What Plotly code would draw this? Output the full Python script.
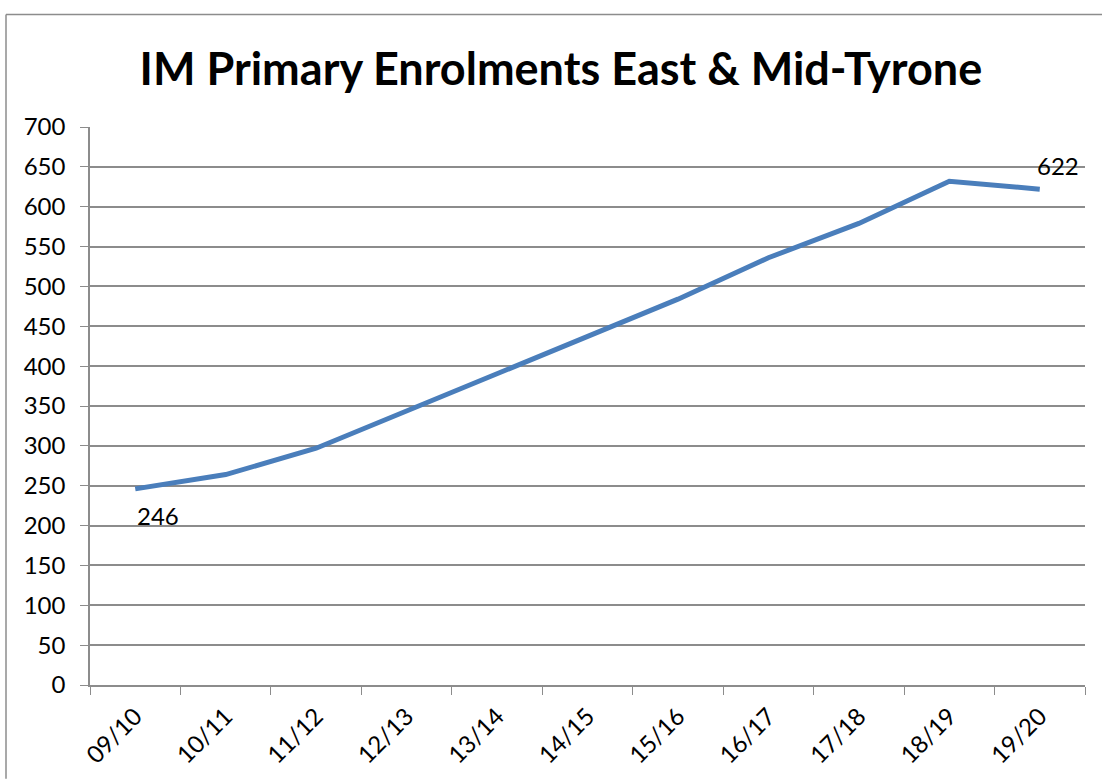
import plotly.graph_objects as go

# school years and enrolment counts
years = ["09/10", "10/11", "11/12", "12/13", "13/14", "14/15",
         "15/16", "16/17", "17/18", "18/19", "19/20"]
enrolments = [246, 264, 297, 344, 391, 437, 484, 536, 579, 632, 622]
y_ticks = list(range(0, 701, 50))

font_family = "Lato, 'Open Sans', sans-serif"
grid_color = "#8c8c8c"

fig = go.Figure()

fig.add_trace(go.Scatter(
    x=years,
    y=enrolments,
    mode="lines",
    line=dict(color="#4a7ebb", width=5),
    showlegend=False,
))

# labels on the first and last points only
fig.add_annotation(x=years[0], y=enrolments[0], text=str(enrolments[0]),
                   showarrow=False, xanchor="left", yanchor="top",
                   xshift=0, yshift=-10,
                   font=dict(family=font_family, size=24, color="black"))
fig.add_annotation(x=years[-1], y=enrolments[-1], text=str(enrolments[-1]),
                   showarrow=False, xanchor="left", yanchor="bottom",
                   xshift=-5, yshift=7,
                   font=dict(family=font_family, size=24, color="black"))

fig.update_layout(
    width=1102,
    height=781,
    margin=dict(l=90, r=17, t=127, b=94),
    paper_bgcolor="white",
    plot_bgcolor="white",
    font=dict(family=font_family, size=24, color="black"),
    title=dict(
        text="<b>IM Primary Enrolments East &amp; Mid-Tyrone</b>",
        x=0.509,
        xanchor="center",
        y=0.911,
        yanchor="middle",
        font=dict(family=font_family, size=45, color="black"),
    ),
)

fig.update_xaxes(
    type="category",
    range=[-0.5, len(years) - 0.5],
    showgrid=False,
    showline=True,
    linecolor=grid_color,
    linewidth=1.5,
    ticks="outside",
    tickson="boundaries",
    ticklen=8,
    tickcolor=grid_color,
    tickangle=-45,
    ticklabelstandoff=6,
    tickfont=dict(size=24),
)

fig.update_yaxes(
    range=[0, 700],
    tickvals=y_ticks,
    showgrid=True,
    gridcolor=grid_color,
    gridwidth=1.5,
    showline=True,
    linecolor=grid_color,
    linewidth=1.5,
    ticks="outside",
    ticklen=8,
    tickcolor=grid_color,
    ticklabelstandoff=10,
    tickfont=dict(size=24),
    zeroline=False,
)

# outer chart frame (left and top edges visible in the reference)
frame_x = (6 - 90) / 995
frame_top = (687 - 14) / 560
fig.add_shape(type="line", xref="paper", yref="paper",
              x0=frame_x, x1=(1102 - 90) / 995,
              y0=frame_top, y1=frame_top,
              line=dict(color=grid_color, width=1.5))
fig.add_shape(type="line", xref="paper", yref="paper",
              x0=frame_x, x1=frame_x,
              y0=frame_top, y1=(687 - 781) / 560,
              line=dict(color=grid_color, width=1.5))

# drop the page's default body margin so the figure sits at the window's corner
fig.write_html("out.html", config={"displayModeBar": False},
               post_script="document.body.style.margin = '0px';")
